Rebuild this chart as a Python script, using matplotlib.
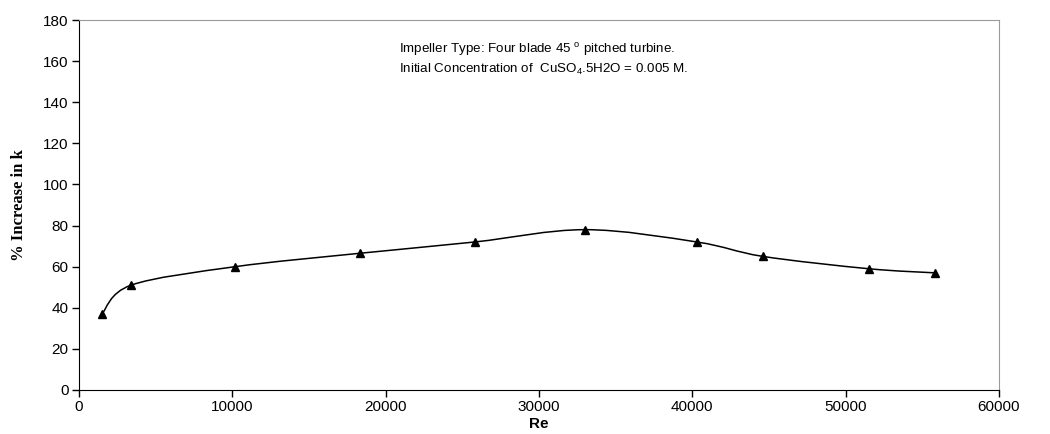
import numpy as np
import matplotlib
matplotlib.use("Agg")
import matplotlib.pyplot as plt
from matplotlib.path import Path
from matplotlib.patches import PathPatch

plt.rcParams['font.family'] = ['Liberation Sans', 'DejaVu Sans']
plt.rcParams['mathtext.default'] = 'regular'

# Reynolds number vs % increase in mass transfer coefficient
re_vals = [1500, 3400, 10200, 18300, 25800, 33000, 40300, 44600, 51500, 55800]
pct_increase = [37, 51, 60, 66.5, 72, 78, 72, 65, 59, 57]


def smooth_path(x, y, t=1/6):
    # Bezier path through the points, like a spreadsheet "smoothed line"
    pts = np.column_stack([x, y]).astype(float)
    verts = [pts[0]]
    codes = [Path.MOVETO]
    n = len(pts)
    for i in range(n - 1):
        p0 = pts[i - 1] if i > 0 else pts[i]
        p1, p2 = pts[i], pts[i + 1]
        p3 = pts[i + 2] if i + 2 < n else pts[i + 1]
        c1 = p1 + (p2 - p0) * t
        c2 = p2 - (p3 - p1) * t
        verts += [c1, c2, p2]
        codes += [Path.CURVE4] * 3
    return Path(verts, codes)


fig = plt.figure(figsize=(10.5, 4.34), dpi=100)
ax = fig.add_axes([0.0752, 0.1014, 0.8762, 0.8525])

ax.add_patch(PathPatch(smooth_path(re_vals, pct_increase), facecolor='none',
                       edgecolor='black', lw=1.1))
ax.plot(re_vals, pct_increase, linestyle='none', marker='^', color='black',
        markersize=5.5)

ax.set_xlim(0, 60000)
ax.set_ylim(0, 180)
ax.set_xticks(np.arange(0, 60001, 10000))
ax.set_yticks(np.arange(0, 181, 20))
ax.tick_params(direction='out', length=5, width=1, labelsize=11, pad=2.5)

for side in ('top', 'right'):
    ax.spines[side].set_color('#9a9a9a')
for side in ('left', 'bottom'):
    ax.spines[side].set_color('black')

fig.text(0.5135, 0.022, 'Re', fontsize=11, fontweight='bold',
         ha='center', va='center')
fig.text(0.018, 0.5276, '% Increase in k', fontsize=12, fontweight='bold',
         family=['Liberation Serif', 'DejaVu Serif'], rotation=90,
         ha='center', va='center')

ax.text(0.348, 0.912, 'Impeller Type: Four blade 45 $^{o}$ pitched turbine.',
        transform=ax.transAxes, fontsize=9.6)
ax.text(0.348, 0.857, 'Initial Concentration of  CuSO$_{4}$.5H2O = 0.005 M.',
        transform=ax.transAxes, fontsize=9.6)

fig.savefig('out.png', dpi=100)
